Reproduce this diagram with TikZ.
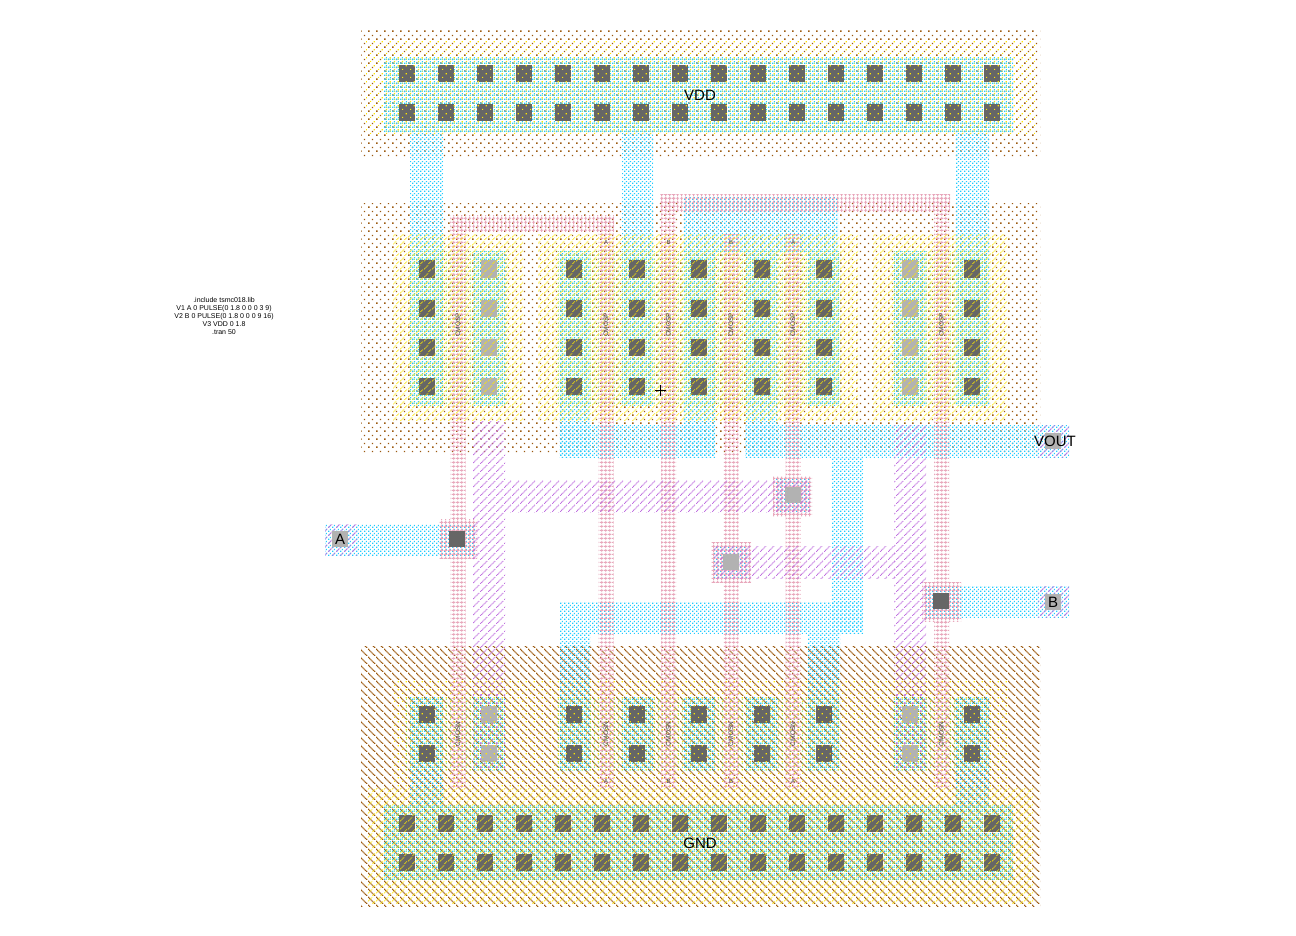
\documentclass[tikz,border=0pt]{standalone}
\usepackage{fontspec}
\setmainfont{Liberation Sans}
\usetikzlibrary{patterns}
\definecolor{WellBrown}{HTML}{9C5A10}
\definecolor{ActiveGreen}{HTML}{66CC55}
\definecolor{MetalCyan}{HTML}{22CCFF}
\definecolor{MetalPurple}{HTML}{C070E0}
\definecolor{PolyPink}{HTML}{E8A8BC}
\definecolor{SelectYellow}{HTML}{FFE800}
\definecolor{ContactGray}{HTML}{666666}
\definecolor{ViaGray}{HTML}{B2B2B2}

% small squares and stairs, #1 and #2 are the centre, #3 the side
\newcommand{\pixel}[3]{\pgfpathrectangle{\pgfpoint{#1pt-#3pt/2}{#2pt-#3pt/2}}{\pgfpoint{#3pt}{#3pt}}\pgfusepath{fill}}
\newcommand{\tile}[2]{\pgfdeclarepatternformonly{#1}{\pgfpointorigin}{\pgfqpoint{#2pt}{#2pt}}{\pgfqpoint{#2pt}{#2pt}}}
\tile{welldots}{8}{\pixel{1}{1}{1.5}\pixel{5}{5}{1.5}}
\tile{selectdots}{8}{\pixel{3}{3}{1.2}\pixel{7}{7}{1.2}}
\tile{activedots}{4}{\pixel{3}{1}{1.3}}
\tile{metaldots}{4}{\pixel{1}{1}{1.4}\pixel{3}{3}{1.4}}
\tile{polygrid}{4}{\pgfpathrectangle{\pgfqpoint{0pt}{1.5pt}}{\pgfqpoint{4pt}{1pt}}\pgfpathrectangle{\pgfqpoint{1.5pt}{0pt}}{\pgfqpoint{1pt}{4pt}}\pgfusepath{fill}}
\tile{stairsup}{8}{\pixel{.5}{.5}{1.1}\pixel{1.5}{1.5}{1.1}\pixel{2.5}{2.5}{1.1}\pixel{3.5}{3.5}{1.1}\pixel{4.5}{4.5}{1.1}\pixel{5.5}{5.5}{1.1}\pixel{6.5}{6.5}{1.1}\pixel{7.5}{7.5}{1.1}}
\tile{stairsupb}{8}{\pixel{.5}{3.5}{1}\pixel{1.5}{4.5}{1}\pixel{2.5}{5.5}{1}\pixel{3.5}{6.5}{1}\pixel{4.5}{7.5}{1}\pixel{5.5}{.5}{1}\pixel{6.5}{1.5}{1}\pixel{7.5}{2.5}{1}}
\tile{stairsdown}{8}{\pixel{.5}{7.5}{1.3}\pixel{1.5}{6.5}{1.3}\pixel{2.5}{5.5}{1.3}\pixel{3.5}{4.5}{1.3}\pixel{4.5}{3.5}{1.3}\pixel{5.5}{2.5}{1.3}\pixel{6.5}{1.5}{1.3}\pixel{7.5}{.5}{1.3}}

\begin{document}
\begin{tikzpicture}[x=1pt,y=-1pt,
    nwell/.style={pattern=welldots,pattern color=WellBrown},
    pwell/.style={pattern=stairsdown,pattern color=WellBrown},
    active/.style={pattern=activedots,pattern color=ActiveGreen},
    metalone/.style={pattern=metaldots,pattern color=MetalCyan},
    metaltwo/.style={pattern=stairsup,pattern color=MetalPurple},
    metaltwodots/.style={pattern=welldots,pattern color=MetalPurple},
    polysi/.style={pattern=polygrid,pattern color=PolyPink},
    selectlines/.style={pattern=stairsupb,pattern color=SelectYellow},
    selectpoints/.style={pattern=selectdots,pattern color=SelectYellow},
    gatelabel/.style={inner sep=0pt,text=black!70,font=\fontsize{6.5}{7}\selectfont,rotate=90},
    polylabel/.style={inner sep=0pt,text=black!70,font=\fontsize{6}{7}\selectfont},
    netlabel/.style={inner sep=0pt,text=black,font=\fontsize{15}{16}\selectfont},
  ]
    \useasboundingbox (0,0) rectangle (1296,936);
    \fill[white] (0,0) rectangle (1296,936);

    % wells
    \fill[nwell] (361,31) rectangle (1040,157);
    \fill[nwell] (361,204) rectangle (1040,453);
    \fill[pwell] (361,646) rectangle (1040,906);

    % active
    \foreach \xa/\ya/\xb/\yb in {384/57/1013/132, 408/252/507/405, 557/252/840/405, 892/252/990/405,
        406/696/505/770, 557/696/840/770, 892/696/990/770, 384/804/1013/880}
      \fill[active] (\xa,\ya) rectangle (\xb,\yb);

    % metal 1
    \foreach \xa/\ya/\xb/\yb in {384/57/1013/132, 410/132/443/405, 622/132/653/405, 956/132/989/405,
        684/198/838/252, 473/252/505/405, 559/252/590/457, 684/252/715/457, 746/252/777/457,
        808/252/840/405, 894/252/926/405, 559/425/715/457, 745/425/1069/457,
        832/457/863/633, 560/602/863/633, 560/633/590/770, 808/633/840/770,
        410/696/443/808, 473/696/505/770, 622/696/653/770, 684/696/715/770, 746/696/777/770,
        894/696/926/770, 956/696/989/808, 384/804/1013/880,
        325/524/475/555, 925/586/1069/617, 776/478/810/512, 714/546/748/578}
      \fill[metalone] (\xa,\ya) rectangle (\xb,\yb);

    % poly
    \foreach \xc/\ytop in {458/216, 606/216, 668.5/195, 731/235, 793/235, 941.5/195}
      \fill[polysi] (\xc-7.5,\ytop) rectangle (\xc+7.5,787);
    \foreach \xa/\ya/\xb/\yb in {450/216/614/232, 660/195/950/212,
        439/519/477/558, 773/476/812/516, 711/542/751/582, 922/582/961/621}
      \fill[polysi] (\xa,\ya) rectangle (\xb,\yb);

    % metal 2
    \foreach \xa/\ya/\xb/\yb in {473/421/505/694, 894/425/926/694, 505/480/810/512, 714/546/895/578,
        325/524/357/555, 1038/425/1069/457, 1038/586/1069/617}
      \fill[metaltwo] (\xa,\ya) rectangle (\xb,\yb);
    \fill[metaltwodots] (473,694) rectangle (505,770);
    \fill[metaltwodots] (894,694) rectangle (926,770);

    % contacts and vias
    \foreach \xc in {407,446,485,524,563,602,641,680,719,758,797,836,875,914,953,992}
      \foreach \yc in {74,113,823,862}
        \fill[ContactGray] (\xc-8,\yc-8.5) rectangle (\xc+8,\yc+8.5);
    \foreach \xc in {427,574,637,699,762,824,972} {
      \foreach \yc in {269,308,347,386,714,753}
        \fill[ContactGray] (\xc-8,\yc-8.5) rectangle (\xc+8,\yc+8.5);
    }
    \foreach \xc in {489,910} {
      \foreach \yc in {269,308,347,386,714,753}
        \fill[ViaGray] (\xc-8,\yc-8.5) rectangle (\xc+8,\yc+8.5);
    }
    \foreach \xc/\yc in {457/539, 941/601}
      \fill[ContactGray] (\xc-8,\yc-8) rectangle (\xc+8,\yc+8);
    \foreach \xc/\yc in {340/539, 793/495, 731/562, 1053/441, 1053/602}
      \fill[ViaGray] (\xc-8,\yc-8) rectangle (\xc+8,\yc+8);

    % select
    \foreach \xa/\ya/\xb/\yb in {393/235/523/420, 538/235/858/420, 873/235/1008/420, 367/788/1033/903}
      \fill[selectlines] (\xa,\ya) rectangle (\xb,\yb);
    \foreach \xa/\ya/\xb/\yb in {366/42/1035/136, 393/680/1008/787}
      \fill[selectpoints] (\xa,\ya) rectangle (\xb,\yb);

    % labels
    \node[netlabel] (vddlabel) at (700,95) {VDD};
    \node[netlabel] (gndlabel) at (700,843) {GND};
    \node[netlabel] (alabel) at (340,539) {A};
    \node[netlabel] (blabel) at (1053,602) {B};
    \node[netlabel] (voutlabel) at (1055,441) {VOUT};

    \foreach \xc/\name in {458/a, 606/b, 668.5/c, 731/d, 793/e, 941.5/f} {
      \node[gatelabel] (gatep\name) at (\xc,325) {CMOSP};
      \node[gatelabel] (gaten\name) at (\xc,734) {CMOSN};
    }
    \foreach \xc/\name/\txt in {606/b/A, 668.5/c/B, 731/d/B, 793/e/A} {
      \node[polylabel] (polytop\name) at (\xc,242) {\txt};
      \node[polylabel] (polybot\name) at (\xc,781) {\txt};
    }

    \node[inner sep=0pt,align=center,font=\fontsize{7}{8}\selectfont] (spicedeck) at (224,316)
      {.include tsmc018.lib\\V1 A 0 PULSE(0 1.8 0 0 0 3 9)\\V2 B 0 PULSE(0 1.8 0 0 0 9 16)\\V3 VDD 0 1.8\\.tran 50};

    % cursor
    \draw[black,line width=.8pt] (655,390) -- (666,390) (660.5,384.5) -- (660.5,395.5);
\end{tikzpicture}
\end{document}
